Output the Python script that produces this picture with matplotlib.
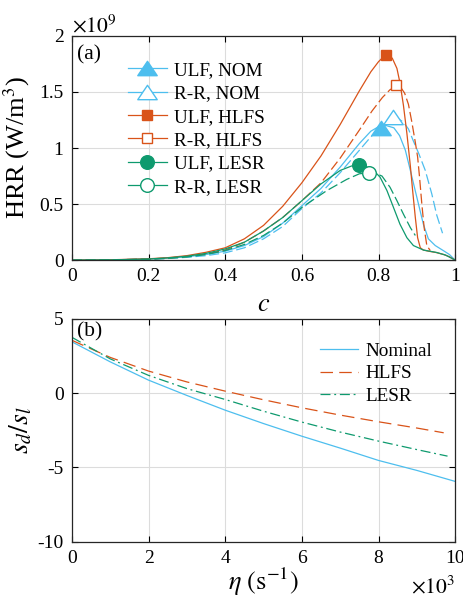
import matplotlib
matplotlib.use("Agg")
import matplotlib.pyplot as plt
from matplotlib.lines import Line2D
from matplotlib.path import Path

plt.rcParams['font.family'] = ['Liberation Serif', 'DejaVu Serif']
plt.rcParams['mathtext.fontset'] = 'stix'

BLUE = '#4DBEEE'
ORANGE = '#D95319'
GREEN = '#0E9A6E'

# ---- panel (a): HRR vs c, values in units of 1e9 W/m^3 ----
c_ulf_nom = [0, 0.1, 0.2, 0.25, 0.3, 0.35, 0.4, 0.45, 0.5, 0.55, 0.6, 0.65, 0.7, 0.75,
             0.78, 0.8, 0.82, 0.84, 0.855, 0.87, 0.883, 0.9, 0.917, 0.93, 0.948, 0.97,
             0.985, 1.0]
h_ulf_nom = [0, 0.002, 0.01, 0.018, 0.03, 0.05, 0.08, 0.13, 0.21, 0.33, 0.485, 0.64, 0.83,
             1.04, 1.15, 1.19, 1.2, 1.18, 1.11, 0.98, 0.8, 0.56, 0.32, 0.19, 0.13, 0.083,
             0.05, 0.0]

c_rr_nom = [0, 0.1, 0.2, 0.25, 0.3, 0.35, 0.4, 0.45, 0.5, 0.55, 0.6, 0.65, 0.7, 0.75,
            0.78, 0.81, 0.84, 0.852, 0.865, 0.878, 0.89, 0.905, 0.922, 0.939, 0.952, 0.967]
h_rr_nom = [0, 0.002, 0.008, 0.015, 0.025, 0.04, 0.065, 0.11, 0.19, 0.3, 0.46, 0.6, 0.78,
            0.98, 1.1, 1.19, 1.25, 1.26, 1.23, 1.17, 1.07, 0.95, 0.8, 0.59, 0.4, 0.24]

c_ulf_hlfs = [0, 0.1, 0.2, 0.25, 0.3, 0.35, 0.4, 0.45, 0.5, 0.55, 0.6, 0.65, 0.7, 0.75,
              0.78, 0.8, 0.812, 0.825, 0.836, 0.848, 0.856, 0.865, 0.874, 0.883, 0.889,
              0.896, 0.902, 0.909, 0.917, 0.93, 0.95, 0.97, 0.985, 1.0]
h_ulf_hlfs = [0, 0.003, 0.012, 0.022, 0.04, 0.07, 0.11, 0.19, 0.31, 0.48, 0.69, 0.93, 1.21,
              1.51, 1.68, 1.77, 1.81, 1.83, 1.8, 1.71, 1.58, 1.38, 1.13, 0.84, 0.62,
              0.38, 0.2, 0.11, 0.09, 0.08, 0.068, 0.05, 0.03, 0.0]

c_rr_hlfs = [0, 0.1, 0.2, 0.25, 0.3, 0.35, 0.4, 0.45, 0.5, 0.55, 0.6, 0.65, 0.7, 0.75,
             0.783, 0.81, 0.83, 0.846, 0.858, 0.868, 0.878, 0.887, 0.896, 0.902, 0.907,
             0.913, 0.919, 0.926, 0.935]
h_rr_hlfs = [0, 0.002, 0.01, 0.018, 0.033, 0.055, 0.09, 0.16, 0.26, 0.38, 0.53, 0.69, 0.91,
             1.16, 1.33, 1.45, 1.52, 1.55, 1.54, 1.49, 1.39, 1.23, 1.05, 0.92, 0.74,
             0.5, 0.29, 0.13, 0.085]

c_ulf_lesr = [0, 0.1, 0.2, 0.25, 0.3, 0.35, 0.4, 0.45, 0.5, 0.55, 0.6, 0.65, 0.7, 0.73,
              0.75, 0.77, 0.79, 0.804, 0.822, 0.839, 0.856, 0.874, 0.891, 0.917, 0.952,
              0.975, 1.0]
h_ulf_lesr = [0, 0.002, 0.01, 0.02, 0.035, 0.06, 0.1, 0.16, 0.26, 0.38, 0.53, 0.68, 0.8, 0.84,
              0.85, 0.83, 0.79, 0.74, 0.62, 0.47, 0.32, 0.2, 0.13, 0.09, 0.068,
              0.045, 0.0]

c_rr_lesr = [0, 0.1, 0.2, 0.25, 0.3, 0.35, 0.4, 0.45, 0.5, 0.55, 0.6, 0.665, 0.717, 0.75,
             0.776, 0.795, 0.809, 0.83, 0.848, 0.865, 0.883, 0.896]
h_rr_lesr = [0, 0.002, 0.008, 0.015, 0.028, 0.05, 0.085, 0.14, 0.22, 0.33, 0.47, 0.62, 0.72,
             0.77, 0.78, 0.77, 0.75, 0.65, 0.53, 0.41, 0.29, 0.22]

# peak markers (c, HRR)
pk_ulf_nom = (0.807, 1.18)
pk_rr_nom = (0.839, 1.28)
pk_ulf_hlfs = (0.82, 1.83)
pk_rr_hlfs = (0.845, 1.56)
pk_ulf_lesr = (0.748, 0.85)
pk_rr_lesr = (0.776, 0.78)

labels_a = ['ULF, NOM', 'R-R, NOM', 'ULF, HLFS', 'R-R, HLFS', 'ULF, LESR', 'R-R, LESR']

# ---- panel (b): s_d/s_l vs eta (x1e3 1/s) ----
eta_nom = [0, 1, 2, 3, 4, 5, 6, 7, 8, 9, 10]
sd_nom = [3.45, 2.1, 0.87, -0.16, -1.15, -2.05, -2.9, -3.7, -4.53, -5.2, -5.94]

eta_hlfs = [0, 1, 2, 3, 4, 5, 6, 7, 8, 9, 9.7]
sd_hlfs = [3.55, 2.4, 1.48, 0.75, 0.13, -0.45, -0.99, -1.48, -1.93, -2.35, -2.67]

eta_lesr = [0, 1, 2, 3, 4, 5, 6, 7, 8, 9, 9.8]
sd_lesr = [3.75, 2.3, 1.19, 0.3, -0.43, -1.22, -1.95, -2.62, -3.23, -3.8, -4.24]

labels_b = ['Nominal', 'HLFS', 'LESR']

fig = plt.figure(figsize=(4.64, 5.98), dpi=100)
ax1 = fig.add_axes([0.155, 0.565, 0.826, 0.375])
ax2 = fig.add_axes([0.155, 0.094, 0.826, 0.373])

# wide MATLAB-style triangle, closed outline
tri = Path([(-1, -0.74), (1, -0.74), (0, 0.74), (-1, -0.74)],
           [Path.MOVETO, Path.LINETO, Path.LINETO, Path.CLOSEPOLY])

lw = 0.9
dash = (8, 3)
ax1.plot(c_ulf_nom, h_ulf_nom, color=BLUE, lw=lw)
ax1.plot(c_rr_nom, h_rr_nom, color=BLUE, lw=lw, dashes=dash)
ax1.plot(c_ulf_hlfs, h_ulf_hlfs, color=ORANGE, lw=lw)
ax1.plot(c_rr_hlfs, h_rr_hlfs, color=ORANGE, lw=lw, dashes=dash)
ax1.plot(c_ulf_lesr, h_ulf_lesr, color=GREEN, lw=lw)
ax1.plot(c_rr_lesr, h_rr_lesr, color=GREEN, lw=lw, dashes=dash)

styles = [(tri, 14, BLUE, True, pk_ulf_nom), (tri, 14, BLUE, False, pk_rr_nom),
          ('s', 7.5, ORANGE, True, pk_ulf_hlfs), ('s', 7.5, ORANGE, False, pk_rr_hlfs),
          ('o', 9.8, GREEN, True, pk_ulf_lesr), ('o', 9.8, GREEN, False, pk_rr_lesr)]
handles = []
for (m, ms, col, filled, pk), lab in zip(styles, labels_a):
    fc = col if filled else 'white'
    ax1.plot([pk[0]], [pk[1]], marker=m, ms=ms, mfc=fc, mec=col, mew=1.0, ls='none', zorder=5)
    handles.append(Line2D([], [], color=col, lw=lw, marker=m, ms=ms, mfc=fc, mec=col, mew=1.0))

ax1.legend(handles=handles, labels=labels_a, loc='upper left', bbox_to_anchor=(0.112, 0.945),
           frameon=False, fontsize=13.8, handlelength=2.0, handletextpad=0.37,
           labelspacing=0.31, borderpad=0.2)

ax1.set_xlim(0, 1)
ax1.set_ylim(0, 2)
ax1.set_xticks([0, 0.2, 0.4, 0.6, 0.8, 1])
ax1.set_xticklabels(['0', '0.2', '0.4', '0.6', '0.8', '1'])
ax1.set_yticks([0, 0.5, 1, 1.5, 2])
ax1.set_yticklabels(['0', '0.5', '1', '1.5', '2'])
ax1.set_xlabel('$c$', fontsize=19, labelpad=6)
ax1.set_ylabel('HRR (W/m$^3$)', fontsize=19, labelpad=5)
ax1.text(0.0, 0.995, r'$\times 10^9$', transform=ax1.transAxes, fontsize=15.5, va='bottom', ha='left')
ax1.text(0.014, 0.96, '(a)', transform=ax1.transAxes, fontsize=15.5, va='top', ha='left')

ax2.plot(eta_nom, sd_nom, color=BLUE, lw=lw, label=labels_b[0])
ax2.plot(eta_hlfs, sd_hlfs, color=ORANGE, lw=lw, dashes=(10, 5), label=labels_b[1])
ax2.plot(eta_lesr, sd_lesr, color=GREEN, lw=lw, dashes=(8, 3, 1.5, 3), label=labels_b[2])
ax2.legend(loc='upper right', bbox_to_anchor=(0.985, 0.97), frameon=False, fontsize=13.8,
           handlelength=2.0, handletextpad=0.37, labelspacing=0.25)

ax2.set_xlim(0, 10)
ax2.set_ylim(-10, 5)
ax2.set_xticks([0, 2, 4, 6, 8, 10])
ax2.set_xticklabels(['0', '2', '4', '6', '8', '10'])
ax2.set_yticks([-10, -5, 0, 5])
ax2.set_yticklabels(['-10', '-5', '0', '5'])
ax2.set_xlabel(r'$\eta\ (\mathrm{s}^{-1})$', fontsize=19, labelpad=-1)
ax2.set_ylabel('$s_d/s_l$', fontsize=20, labelpad=2)
ax2.text(1.0, -0.155, r'$\times 10^3$', transform=ax2.transAxes, fontsize=15.5, va='top', ha='right')
ax2.text(0.014, 0.985, '(b)', transform=ax2.transAxes, fontsize=15.5, va='top', ha='left')

for ax in (ax1, ax2):
    ax.grid(True, color='#DCDCDC', lw=0.8)
    ax.set_axisbelow(True)
    ax.tick_params(direction='in', top=True, right=True, labelsize=14, length=4, width=0.8,
                   pad=6)
    for s in ax.spines.values():
        s.set_linewidth(0.9)
        s.set_color('#262626')

fig.savefig('out.png', dpi=100)
